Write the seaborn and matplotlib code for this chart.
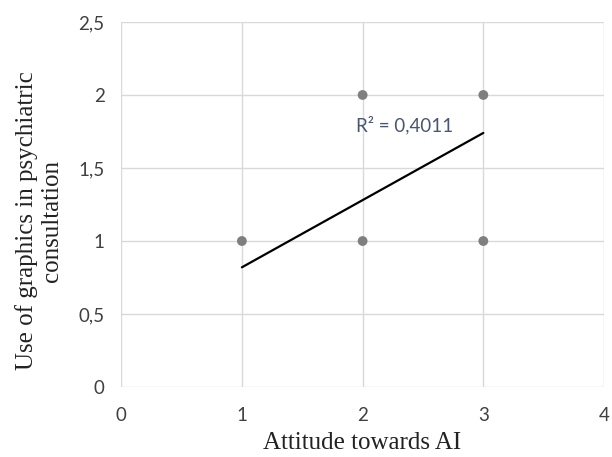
import numpy as np
import pandas as pd
import seaborn as sns
import matplotlib.pyplot as plt

# scatter points
attitude = [1, 2, 2, 3, 3]
graphics_use = [1, 2, 1, 2, 1]

# linear trendline shown on the chart
trend_x = [1, 3]
trend_slope = 0.46
trend_intercept = 0.36
r2_text = 'R² = 0,4011'

x_ticks = [0, 1, 2, 3, 4]
y_ticks = [0, 0.5, 1, 1.5, 2, 2.5]
y_tick_labels = ['0', '0,5', '1', '1,5', '2', '2,5']

data = pd.DataFrame({'x': attitude, 'y': graphics_use})

sns.set_style('white')
plt.rcParams['font.family'] = ['Lato', 'DejaVu Sans']

fig = plt.figure(figsize=(6.12, 4.57), dpi=100)
ax = fig.add_axes([0.198, 0.153, 0.789, 0.799])

sns.scatterplot(x='x', y='y', data=data, ax=ax, color='#7f7f7f',
                s=50, edgecolor='none', zorder=3)

tx = np.array(trend_x)
ax.plot(tx, trend_slope * tx + trend_intercept, color='black', lw=1.6, zorder=2)
ax.text(2.35, 1.795, r2_text, ha='center', va='center', fontsize=13.5,
        color='#4a5670')

ax.set_xlim(0, 4)
ax.set_ylim(0, 2.5)
ax.set_xticks(x_ticks)
ax.set_yticks(y_ticks)
ax.set_yticklabels(y_tick_labels)
ax.set_xlabel('')
ax.set_ylabel('')
ax.tick_params(labelsize=13.5, colors='#404040', length=0)
ax.tick_params(axis='x', pad=14)
ax.tick_params(axis='y', pad=12)
ax.grid(True, color='#d9d9d9', lw=1)
for s in ax.spines.values():
    s.set_visible(False)

fig.text(362.5 / 612, 1 - 443 / 457, 'Attitude towards AI', family='Liberation Serif',
         fontsize=18, color='#222222', ha='center', va='center')
fig.text(39 / 612, 1 - 221 / 457, 'Use of graphics in psychiatric\nconsultation',
         family='Liberation Serif', fontsize=18, color='#222222', rotation=90,
         ha='center', va='center', multialignment='center', linespacing=1.15)

plt.savefig('out.png', dpi=100)
